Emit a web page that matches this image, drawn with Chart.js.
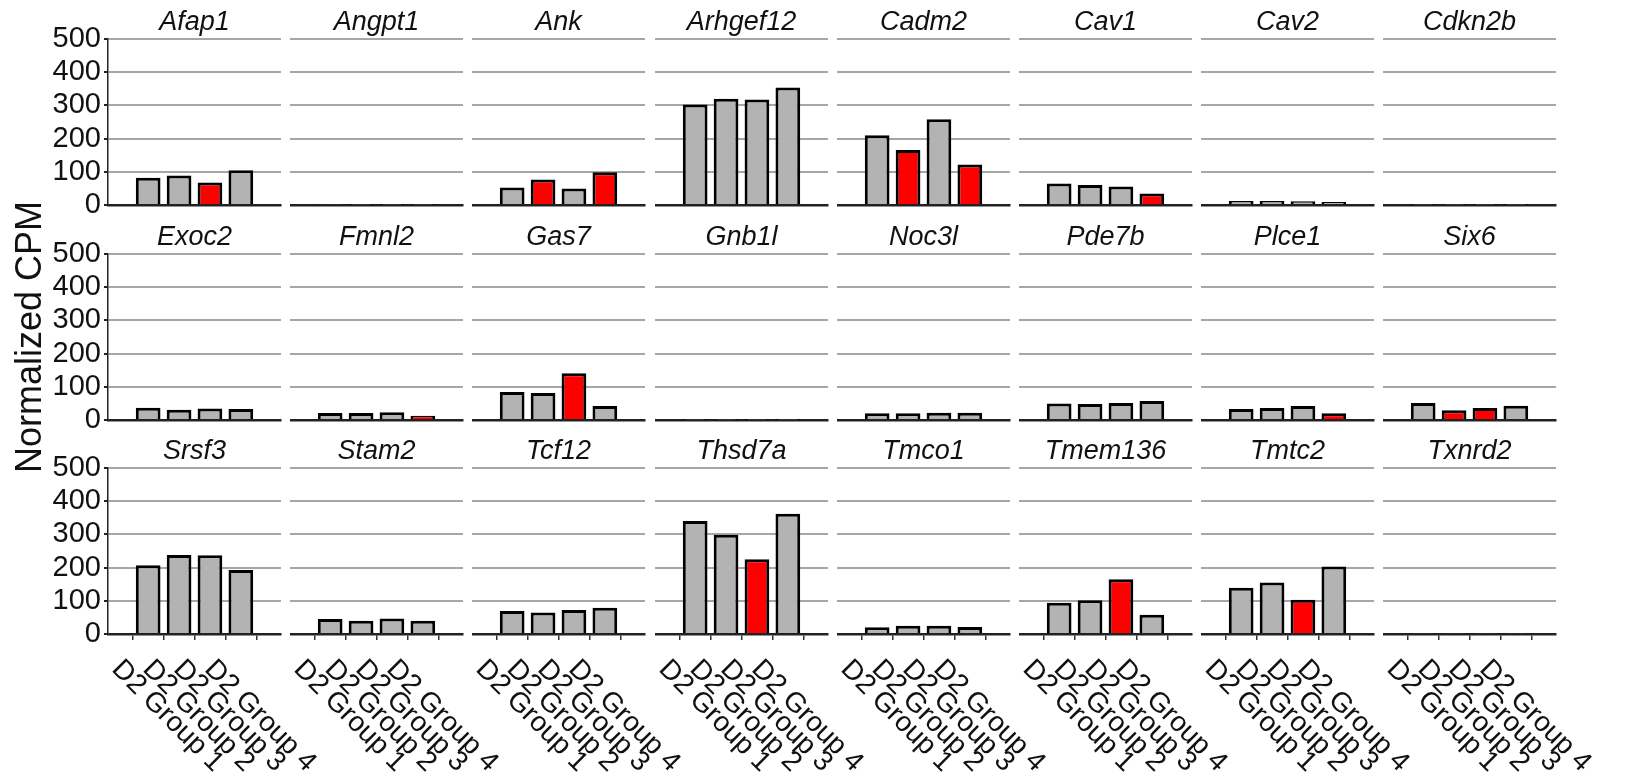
<!DOCTYPE html>
<html>
<head>
<meta charset="utf-8">
<script src="https://cdn.jsdelivr.net/npm/chart.js@4.4.1/dist/chart.umd.min.js"></script>
<style>
html, body { margin: 0; padding: 0; background: #fff; }
#wrap { position: relative; width: 1642px; height: 781px; overflow: hidden; background: #fff; }
#wrap canvas { position: absolute; }
</style>
</head>
<body>
<div id="wrap"></div>
<script>
// genes in panel order (3 rows x 8 columns)
const genes = ['Afap1','Angpt1','Ank','Arhgef12','Cadm2','Cav1','Cav2','Cdkn2b',
               'Exoc2','Fmnl2','Gas7','Gnb1l','Noc3l','Pde7b','Plce1','Six6',
               'Srsf3','Stam2','Tcf12','Thsd7a','Tmco1','Tmem136','Tmtc2','Txnrd2'];
const groups = ['D2 Group 1','D2 Group 2','D2 Group 3','D2 Group 4'];
const groupPos = [1, 2, 3, 4];
const yTicks = [0, 100, 200, 300, 400, 500];

// normalized CPM per gene, groups 1-4
const afap1    = [82, 89, 68, 105];
const angpt1   = [2, 1, 1, 1];
const ank      = [53, 77, 50, 99];
const arhgef12 = [303, 320, 318, 354];
const cadm2    = [210, 166, 258, 122];
const cav1     = [65, 60, 56, 35];
const cav2     = [12, 12, 11, 9];
const cdkn2b   = [1, 1, 1, 1];
const exoc2    = [37, 31, 35, 33];
const fmnl2    = [21, 21, 23, 13];
const gas7     = [84, 81, 141, 42];
const gnb1l    = [1, 1, 1, 1];
const noc3l    = [20, 20, 22, 22];
const pde7b    = [50, 48, 51, 57];
const plce1    = [33, 36, 42, 20];
const six6     = [51, 29, 36, 43];
const srsf3    = [207, 238, 237, 193];
const stam2    = [45, 40, 47, 40];
const tcf12    = [69, 65, 72, 79];
const thsd7a   = [340, 299, 225, 362];
const tmco1    = [20, 25, 25, 21];
const tmem136  = [94, 102, 165, 58];
const tmtc2    = [139, 155, 103, 203];
const txnrd2   = [2, 2, 2, 2];

const cpm = [afap1, angpt1, ank, arhgef12, cadm2, cav1, cav2, cdkn2b,
             exoc2, fmnl2, gas7, gnb1l, noc3l, pde7b, plce1, six6,
             srsf3, stam2, tcf12, thsd7a, tmco1, tmem136, tmtc2, txnrd2];

// groups drawn in red (significant) per gene
const redBars = [[3], [], [2, 4], [], [2, 4], [4], [], [],
                 [], [4], [3], [], [], [], [4], [2, 3],
                 [], [], [], [3], [], [3], [3], []];

const FONT = '"Liberation Sans", Arial, sans-serif';
Chart.defaults.font.family = FONT;
Chart.defaults.color = '#111';

// layout of the panel grid
const X0 = 108, PITCH_X = 182.2, PW = 173;
const Y0 = 39, PITCH_Y = 214.6, PH = 166;
const TOP_SPACE = 39, OVERFLOW = 150, FULL_H = 781;

const panelText = {
  id: 'panelText',
  afterDraw(chart, args, opts) {
    const { ctx, chartArea } = chart;
    ctx.save();
    ctx.fillStyle = '#111';
    ctx.font = 'italic 27px ' + FONT;
    ctx.textAlign = 'center';
    ctx.textBaseline = 'alphabetic';
    ctx.fillText(opts.title, (chartArea.left + chartArea.right) / 2, chartArea.top - 9);
    if (opts.labels) {
      const xs = chart.scales.x;
      ctx.font = '28px ' + FONT;
      ctx.textAlign = 'left';
      ctx.textBaseline = 'top';
      xs.ticks.forEach((t, k) => {
        const px = xs.getPixelForValue(t.value);
        ctx.save();
        ctx.translate(px - 22, chartArea.bottom + 21);
        ctx.rotate(Math.PI / 4);
        ctx.fillText(groups[k], 0, 0);
        ctx.restore();
      });
    }
    ctx.restore();
  }
};

const wrap = document.getElementById('wrap');

genes.forEach((gene, i) => {
  const r = Math.floor(i / 8), c = i % 8;
  const L = Math.round(X0 + c * PITCH_X);
  const T = Math.round(Y0 + r * PITCH_Y);
  const isLeft = c === 0, isBottom = r === 2;
  const hasTitle = i === 8;
  const extTop = hasTitle ? 90 : 0;                       // room for the long axis title
  const extBottom = hasTitle ? 90 : (isLeft ? 22 : 0);    // room for the "0" tick label
  const canvasLeft = isLeft ? 0 : L;
  const yW = L - canvasLeft;
  const canvasTop = T - TOP_SPACE - extTop;
  const canvasBottom = isBottom ? FULL_H : T + PH + 3 + extBottom;
  const xH = isBottom ? 7 : 0;
  const padR = isBottom ? OVERFLOW : 2;

  const cv = document.createElement('canvas');
  cv.width = yW + PW + padR;
  cv.height = canvasBottom - canvasTop;
  cv.style.left = canvasLeft + 'px';
  cv.style.top = canvasTop + 'px';
  cv.style.width = cv.width + 'px';
  cv.style.height = cv.height + 'px';
  wrap.appendChild(cv);

  const vals = cpm[i];
  new Chart(cv.getContext('2d'), {
    type: 'bar',
    data: {
      datasets: [{
        data: groupPos.map((p, k) => ({ x: p, y: vals[k] })),
        backgroundColor: groupPos.map(p => redBars[i].includes(p) ? '#ff0000' : '#b3b3b3'),
        borderColor: '#000',
        borderWidth: 3,
        categoryPercentage: 1,
        barPercentage: 0.8
      }]
    },
    options: {
      responsive: false,
      animation: false,
      events: [],
      layout: {
        autoPadding: false,
        padding: { left: 0, top: TOP_SPACE + extTop, right: padR, bottom: canvasBottom - (T + PH) - xH }
      },
      plugins: {
        legend: { display: false },
        tooltip: { enabled: false },
        panelText: { title: gene, labels: isBottom }
      },
      scales: {
        x: {
          type: 'linear',
          min: 0.4,
          max: 4.6,
          afterBuildTicks: s => { s.ticks = groupPos.map(v => ({ value: v })); },
          afterFit: s => { s.height = xH; s.paddingLeft = 0; s.paddingRight = 0; },
          ticks: { display: false },
          grid: { drawOnChartArea: false, drawTicks: isBottom, tickLength: 6, tickColor: '#333', lineWidth: 1.5 },
          border: { display: true, color: '#222', width: 2.5 }
        },
        y: {
          min: 0,
          max: 500,
          afterBuildTicks: s => { s.ticks = yTicks.map(v => ({ value: v })); },
          afterFit: s => { s.width = yW; s.paddingTop = 0; s.paddingBottom = 0; },
          ticks: { display: isLeft, autoSkip: false, font: { size: 29 }, color: '#111', padding: 3 },
          grid: { color: '#a6a6a6', lineWidth: 2, drawTicks: isLeft, tickLength: 4, tickColor: '#222' },
          border: { display: isLeft, color: '#222', width: 1.5 },
          title: {
            display: hasTitle,
            text: 'Normalized CPM',
            font: { size: 36 },
            color: '#111',
            padding: { top: 9, bottom: 0 }
          }
        }
      }
    },
    plugins: [panelText]
  });
});
</script>
</body>
</html>
